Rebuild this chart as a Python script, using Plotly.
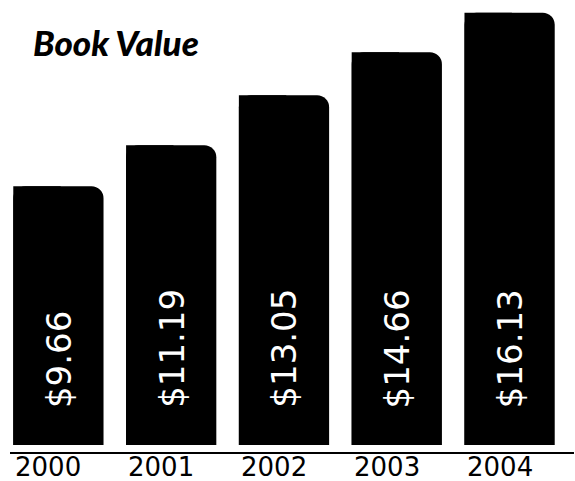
import plotly.graph_objects as go

# Book value per share by year
years = ["2000", "2001", "2002", "2003", "2004"]
book_value = [9.66, 11.19, 13.05, 14.66, 16.13]
value_labels = [f"${v:.2f}" for v in book_value]
positions = list(range(len(years)))

fig = go.Figure()

# Bars with a rounded top edge...
fig.add_trace(go.Bar(
    x=positions,
    y=book_value,
    width=0.8,
    marker=dict(color="#000000", line=dict(width=0), cornerradius=12),
    hoverinfo="skip",
))
# ...and a square left half so only the top-right corner stays rounded
fig.add_trace(go.Bar(
    x=positions,
    y=book_value,
    width=0.42,
    offset=-0.4,
    marker=dict(color="#000000", line=dict(width=0)),
    hoverinfo="skip",
))

# Rotated value labels sitting near the base of each bar
for xp, lab in zip(positions, value_labels):
    fig.add_annotation(
        x=xp, y=1.3, xref="x", yref="y",
        text=lab, showarrow=False, textangle=-90,
        xanchor="center", yanchor="bottom",
        font=dict(family="DejaVu Sans", size=34, color="#ffffff"),
    )

# Year labels below the baseline
for xp, yr in zip(positions, years):
    fig.add_annotation(
        x=xp, y=0, xref="x", yref="paper",
        text=yr, showarrow=False, xshift=-10, yshift=-14,
        xanchor="center", yanchor="middle",
        font=dict(family="DejaVu Sans", size=26, color="#000000"),
    )

# Chart title
fig.add_annotation(
    x=(31 - 2) / 564, y=1.0, xref="paper", yref="paper",
    xanchor="left", yanchor="top", yshift=-14,
    text="Book Value", showarrow=False,
    font=dict(family="Lato", size=35, color="#000000", weight=900, style="italic"),
)

# Baseline under the bars
fig.add_shape(
    type="line", xref="paper", yref="paper",
    x0=(10 - 2) / 564, x1=(574 - 2) / 564, y0=0, y1=0,
    line=dict(color="#000000", width=2),
)

fig.update_layout(
    width=575, height=481,
    margin=dict(l=2, r=9, t=5, b=28),
    paper_bgcolor="#ffffff", plot_bgcolor="#ffffff",
    showlegend=False,
    barmode="overlay",
    xaxis=dict(
        range=[-0.5, 4.5], showgrid=False, zeroline=False, showline=False,
        showticklabels=False, ticks="",
    ),
    yaxis=dict(
        range=[-0.3, 16.42], visible=False, showgrid=False, zeroline=False,
    ),
)

fig.write_html("out.html")
